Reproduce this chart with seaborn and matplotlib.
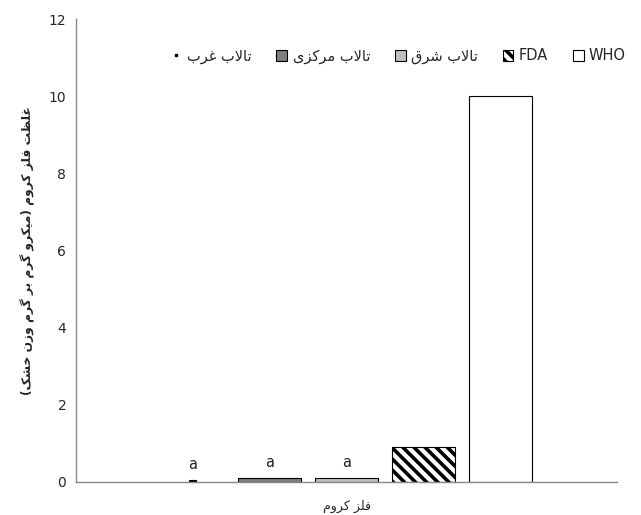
import matplotlib
matplotlib.use("Agg")
import matplotlib.pyplot as plt
import matplotlib.patches as mpatches
from matplotlib.lines import Line2D
import pandas as pd
import seaborn as sns

# ── data ─────────────────────────────────────────────────────────────────────
category = "فلز کروم"
series = ["تالاب غرب", "تالاب مرکزی", "تالاب شرق", "FDA", "WHO"]
values = [0.05, 0.1, 0.1, 0.9, 10.0]
letters = ["a", "a", "a", "", ""]
colors = ["#000000", "#7f7f7f", "#c0c0c0", "#ffffff", "#ffffff"]
hatches = ["", "", "", "\\\\\\", ""]
y_label = "غلظت فلز کروم (میکرو گرم بر گرم وزن خشک)"
y_ticks = [0, 2, 4, 6, 8, 10, 12]

# ── minimal Persian shaping (matplotlib has no complex text layout) ─────────
DUAL = {
    "ب": (0xFE8F, 0xFE90, 0xFE91, 0xFE92), "ت": (0xFE95, 0xFE96, 0xFE97, 0xFE98),
    "خ": (0xFEA5, 0xFEA6, 0xFEA7, 0xFEA8), "ش": (0xFEB5, 0xFEB6, 0xFEB7, 0xFEB8),
    "ظ": (0xFEC5, 0xFEC6, 0xFEC7, 0xFEC8), "غ": (0xFECD, 0xFECE, 0xFECF, 0xFED0),
    "ف": (0xFED1, 0xFED2, 0xFED3, 0xFED4), "ق": (0xFED5, 0xFED6, 0xFED7, 0xFED8),
    "ل": (0xFEDD, 0xFEDE, 0xFEDF, 0xFEE0), "م": (0xFEE1, 0xFEE2, 0xFEE3, 0xFEE4),
    "ن": (0xFEE5, 0xFEE6, 0xFEE7, 0xFEE8), "ک": (0xFB8E, 0xFB8F, 0xFB90, 0xFB91),
    "گ": (0xFB92, 0xFB93, 0xFB94, 0xFB95), "ی": (0xFBFC, 0xFBFD, 0xFBFE, 0xFBFF),
}
RIGHT = {
    "ا": (0xFE8D, 0xFE8E), "ر": (0xFEAD, 0xFEAE),
    "ز": (0xFEAF, 0xFEB0), "و": (0xFEED, 0xFEEE),
}
FORMS = {**DUAL, **RIGHT}


def shape(text):
    """Join Persian letters and put them in visual (right-to-left) order."""
    text = text.replace("\u0643", "\u06A9").replace("\u064A", "\u06CC")
    if not any(c in FORMS for c in text):
        return text
    out, i, n = [], 0, len(text)
    while i < n:
        c = text[i]
        if c not in FORMS:
            out.append(c)
            i += 1
            continue
        prev = text[i - 1] if i > 0 else ""
        nxt = text[i + 1] if i + 1 < n else ""
        joins_prev = prev in DUAL
        if c == "ل" and nxt == "ا":
            out.append(chr(0xFEFC if joins_prev else 0xFEFB))
            i += 2
            continue
        joins_next = c in DUAL and nxt in FORMS
        f = FORMS[c]
        if joins_prev and joins_next:
            out.append(chr(f[3]))
        elif joins_prev:
            out.append(chr(f[1]))
        elif joins_next:
            out.append(chr(f[2]))
        else:
            out.append(chr(f[0]))
        i += 1
    return "".join(reversed(out)).translate(str.maketrans("()", ")("))


# ── figure ───────────────────────────────────────────────────────────────────
sns.set_theme(style="white")
plt.rcParams["font.family"] = ["DejaVu Sans"]
plt.rcParams["hatch.linewidth"] = 2.6
plt.rcParams["hatch.color"] = "black"

df = pd.DataFrame({"Category": [category] * len(series), "Series": series, "Value": values})

fig = plt.figure(figsize=(6.41, 5.15), dpi=100)
ax = fig.add_axes([0.1186, 0.0641, 0.844, 0.899])

sns.barplot(data=df, x="Category", y="Value", hue="Series", hue_order=series,
            palette=dict(zip(series, colors)), width=0.7116, gap=0.17,
            edgecolor="black", linewidth=0.8, legend=False, ax=ax)

for p, h, lab in zip(ax.patches, hatches, letters):
    p.set_hatch(h)
    if lab:
        ax.annotate(lab, (p.get_x() + p.get_width() / 2., p.get_height()),
                    xytext=(0, 6), textcoords="offset points",
                    ha="center", va="bottom", fontsize=10.5, color="#222222")

# west series is drawn as a thin sliver in the source chart
w = ax.patches[0]
cx = w.get_x() + w.get_width() / 2.
w.set_width(w.get_width() * 0.12)
w.set_x(cx - w.get_width() / 2.)

ax.set_xlim(-0.5, 0.5)
ax.set_ylim(0, 12)
ax.set_yticks(y_ticks)
ax.set_xticks([-0.5, 0.5])
ax.set_xticklabels(["", ""])
ax.tick_params(axis="y", length=4, width=1, color="#888888", labelsize=10, pad=3)
ax.tick_params(axis="x", length=5, width=1, color="#888888")
for side in ["top", "right"]:
    ax.spines[side].set_visible(False)
for side in ["left", "bottom"]:
    ax.spines[side].set_color("#888888")
    ax.spines[side].set_linewidth(1.0)

ax.set_xlabel(shape(category), fontsize=9, labelpad=4)
ax.set_ylabel(shape(y_label), fontsize=8.8, fontweight="bold", labelpad=10)

handles = [Line2D([], [], marker="s", markersize=2, color="black", linestyle="none")]
for c, h in zip(colors[1:], hatches[1:]):
    handles.append(mpatches.Patch(facecolor=c, edgecolor="black", hatch=h, linewidth=0.8))
fig.legend(handles, [shape(s) for s in series], loc="center left",
           bbox_to_anchor=(0.2668, 0.891), ncol=5, frameon=False, fontsize=10.5,
           handlelength=0.75, handleheight=0.75, handletextpad=0.35,
           columnspacing=1.7, borderpad=0, borderaxespad=0)

fig.savefig("out.png", dpi=100)
